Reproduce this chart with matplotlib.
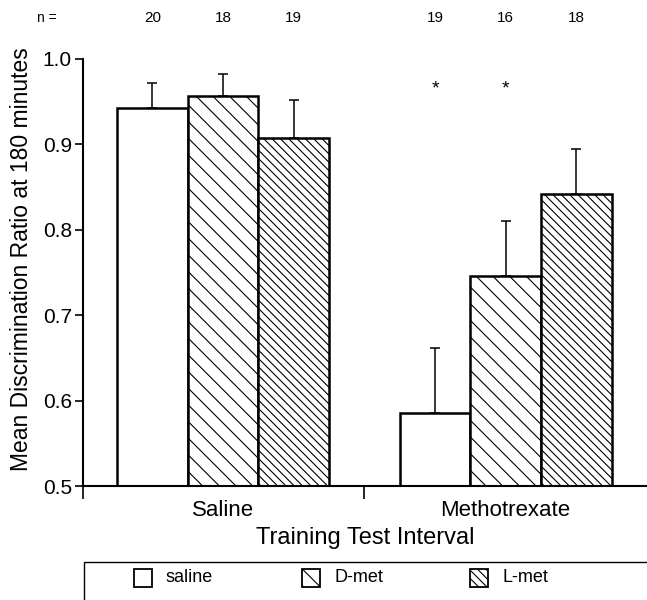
import matplotlib
matplotlib.use("Agg")
import matplotlib.pyplot as plt
from matplotlib.patches import Rectangle
from matplotlib.transforms import blended_transform_factory
import numpy as np

plt.rcParams['font.family'] = ['Liberation Sans', 'DejaVu Sans']
plt.rcParams['hatch.linewidth'] = 0.8

# data
groups = ['Saline', 'Methotrexate']
treatments = ['saline', 'D-met', 'L-met']
means = {'saline': [0.943, 0.586],
         'D-met': [0.957, 0.746],
         'L-met': [0.907, 0.842]}
sems = {'saline': [0.029, 0.076],
        'D-met': [0.025, 0.064],
        'L-met': [0.045, 0.053]}
n_counts = {'saline': [20, 19],
            'D-met': [18, 16],
            'L-met': [19, 18]}
signif = {'saline': [False, True],
          'D-met': [False, True],
          'L-met': [False, False]}
hatches = {'saline': '', 'D-met': '\\\\', 'L-met': '\\\\\\\\'}

fig = plt.figure(figsize=(6.47, 6.0), dpi=100)
ax = fig.add_axes([83/647, 1-486/600, 1-83/647, (486-59)/600])

centers = np.array([0.0, 4.0])
offsets = [-1, 0, 1]
ntrans = blended_transform_factory(ax.transData, fig.transFigure)
for t, off in zip(treatments, offsets):
    x = centers + off
    ax.bar(x, np.array(means[t]) - 0.5, bottom=0.5, width=1.0,
           facecolor='white', edgecolor='black', linewidth=1.8,
           hatch=hatches[t], zorder=2)
    ax.errorbar(x, means[t], yerr=[np.zeros(2), sems[t]], fmt='none',
                ecolor='black', elinewidth=1.1, capsize=3.6, capthick=1.1,
                zorder=1)
    for xi, n in zip(x, n_counts[t]):
        ax.text(xi, 1-18/600, str(n), transform=ntrans, ha='center',
                va='center', fontsize=11)
    for xi, s in zip(x, signif[t]):
        if s:
            ax.text(xi, 0.965, '*', ha='center', va='center', fontsize=14)

fig.text(47/647, 1-18/600, 'n =', ha='center', va='center', fontsize=10)

ax.set_xlim(-1.98, 6.0)
ax.set_ylim(0.5, 1.0)
ax.set_yticks([0.5, 0.6, 0.7, 0.8, 0.9, 1.0])
ax.set_yticklabels(['0.5', '0.6', '0.7', '0.8', '0.9', '1.0'])
ax.tick_params(axis='y', direction='out', length=6, width=1.2,
               labelsize=15, pad=2)
ax.set_xticks(centers)
ax.set_xticklabels(groups)
ax.tick_params(axis='x', which='major', length=0, labelsize=16, pad=10)
ax.set_xticks([-1.98, 2.0], minor=True)
ax.tick_params(axis='x', which='minor', direction='out', length=9, width=1.2)
for s in ['top', 'right']:
    ax.spines[s].set_visible(False)
for s in ['left', 'bottom']:
    ax.spines[s].set_linewidth(1.5)

fig.text(22/647, 1-259/600, 'Mean Discrimination Ratio at 180 minutes',
         rotation=90, ha='center', va='center', fontsize=16.5)
fig.text(365/647, 1-538/600, 'Training Test Interval', ha='center',
         va='center', fontsize=17)

# legend box
fig.add_artist(Rectangle((84/647, -0.05), 0.95, 0.05+(600-562)/600,
                         transform=fig.transFigure, facecolor='white',
                         edgecolor='black', linewidth=1.0))
for t, lx in zip(treatments, [134, 302, 470]):
    fig.add_artist(Rectangle((lx/647, 1-587/600), 18/647, 18/600,
                             transform=fig.transFigure, facecolor='white',
                             edgecolor='black', linewidth=1.3,
                             hatch=hatches[t]))
    fig.text((lx+32)/647, 1-578/600, t, ha='left', va='center', fontsize=13)

fig.savefig('out.png', dpi=100)
